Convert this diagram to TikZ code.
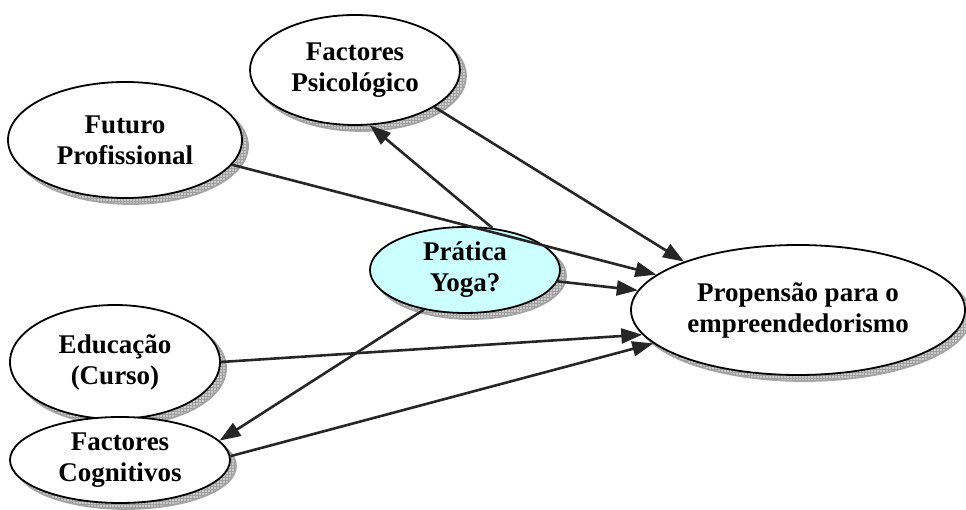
\documentclass[tikz,border=0pt]{standalone}
\usepackage{fontspec}
\setmainfont{Liberation Serif}
\usetikzlibrary{shapes.geometric,arrows.meta,shadows,patterns}
\definecolor{yogafill}{RGB}{204,255,255}
\begin{document}
\begin{tikzpicture}[x=1pt,y=-1pt,
  factor/.style={ellipse, draw=black, line width=1.8pt, fill=white,
    align=center, inner sep=0pt,
    font=\fontsize{27}{31}\selectfont\bfseries,
    drop shadow={shadow xshift=6pt, shadow yshift=-6pt, fill=gray!40, draw=gray!70,
      opacity=1, postaction={pattern=grid, pattern color=gray!75}}},
  link/.style={draw=black!85, line width=2.6pt, -{Triangle[length=21pt,width=15pt]}}]
  \useasboundingbox (0,0) rectangle (966,510);

  \node[factor, minimum width=210, minimum height=110] (psy) at (355,70) {Factores\\Psicológico};
  \node[factor, minimum width=234, minimum height=116] (fut) at (125,140) {Futuro\\Profissional};
  \node[factor, minimum width=190, minimum height=86, fill=yogafill] (yoga) at (465,270) {Prática\\Yoga?};
  \node[factor, minimum width=210, minimum height=114] (edu) at (115,362) {Educação\\(Curso)};
  \node[factor, minimum width=220, minimum height=86] (cog) at (120,460) {Factores\\Cognitivos};
  \node[factor, minimum width=334, minimum height=130] (prop) at (798,310) {Propensão para o\\empreendedorismo};

  \draw[link] (psy.-25) -- (prop.157);
  \draw[link] (fut.-13) -- (prop.166);
  \draw[link] (yoga.57) -- (psy.-75);
  \draw[link] (yoga.-7) -- (prop.173);
  \draw[link] (edu.0) -- (prop.189);
  \draw[link] (cog.2) -- (prop.193);
  \draw[link] (yoga.224) -- (cog.11);
\end{tikzpicture}
\end{document}
